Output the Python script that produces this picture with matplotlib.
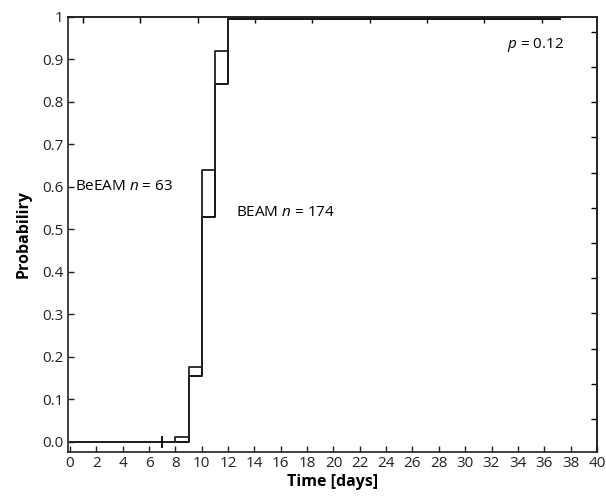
import matplotlib
matplotlib.use("Agg")
import matplotlib.pyplot as plt
import numpy as np

plt.rcParams['font.family'] = ['Open Sans', 'DejaVu Sans']
plt.rcParams['mathtext.fontset'] = 'custom'
plt.rcParams['mathtext.it'] = 'Open Sans:italic'
plt.rcParams['mathtext.rm'] = 'Open Sans'

# step times (days) and cumulative probability after each step
times = [0, 8, 9, 10, 11, 12, 37.2]
beam_prob = [0.0, 0.0, 0.155, 0.53, 0.842, 0.995, 0.995]
beeam_prob = [0.0, 0.012, 0.175, 0.64, 0.92, 1.0, 1.0]
censor_t = [7]
censor_p = [0.0]

x_ticks = list(range(0, 41, 2))
y_ticks = [0.0, 0.1, 0.2, 0.3, 0.4, 0.5, 0.6, 0.7, 0.8, 0.9, 1.0]
y_tick_labels = ["0.0", "0.1", "0.2", "0.3", "0.4", "0.5", "0.6", "0.7", "0.8", "0.9", "1"]

fig = plt.figure(figsize=(6.06, 4.99), dpi=100)
ax = fig.add_axes([0.1122, 0.0942, 0.8728, 0.8718])

ax.step(times, beam_prob, where='post', color='black', lw=1.3)
ax.step(times, beeam_prob, where='post', color='#222222', lw=1.3)
ax.plot(censor_t, censor_p, marker='|', ms=8, mew=1.3, color='black', ls='none')

ax.set_xlim(-0.15, 40)
ax.set_ylim(-0.024, 1.0)
ax.set_xticks(x_ticks)
ax.set_yticks(y_ticks)
ax.set_yticklabels(y_tick_labels)
ax.tick_params(direction='in', length=4, width=1, labelsize=11, pad=3, colors='#222222')
ax.tick_params(axis='x', pad=3)

# odd-spaced ticks on the top and right frame
top = ax.secondary_xaxis('top')
top.set_xticks([1 + 4.35 * k for k in range(9)])
top.tick_params(direction='in', length=4, width=1, labeltop=False)
right = ax.secondary_yaxis('right')
right.set_yticks([0.054 + 0.0828 * k for k in range(12)])
right.tick_params(direction='in', length=4, width=1, labelright=False)

for sp in list(ax.spines.values()) + [top.spines['top'], right.spines['right']]:
    sp.set_color('#222222')
    sp.set_linewidth(1.2)

ax.set_xlabel("Time [days]", fontsize=11.5, fontweight='bold', labelpad=2)
ax.set_ylabel("Probabiliry", fontsize=11.5, fontweight='bold', labelpad=8)

ax.text(0.4, 0.60, r"BeEAM $n$ = 63", fontsize=11, va='center', ha='left')
ax.text(12.6, 0.54, r"BEAM $n$ = 174", fontsize=11, va='center', ha='left')
ax.text(33.2, 0.935, r"$p$ = 0.12", fontsize=11, va='center', ha='left')

fig.savefig("out.png", dpi=100)
